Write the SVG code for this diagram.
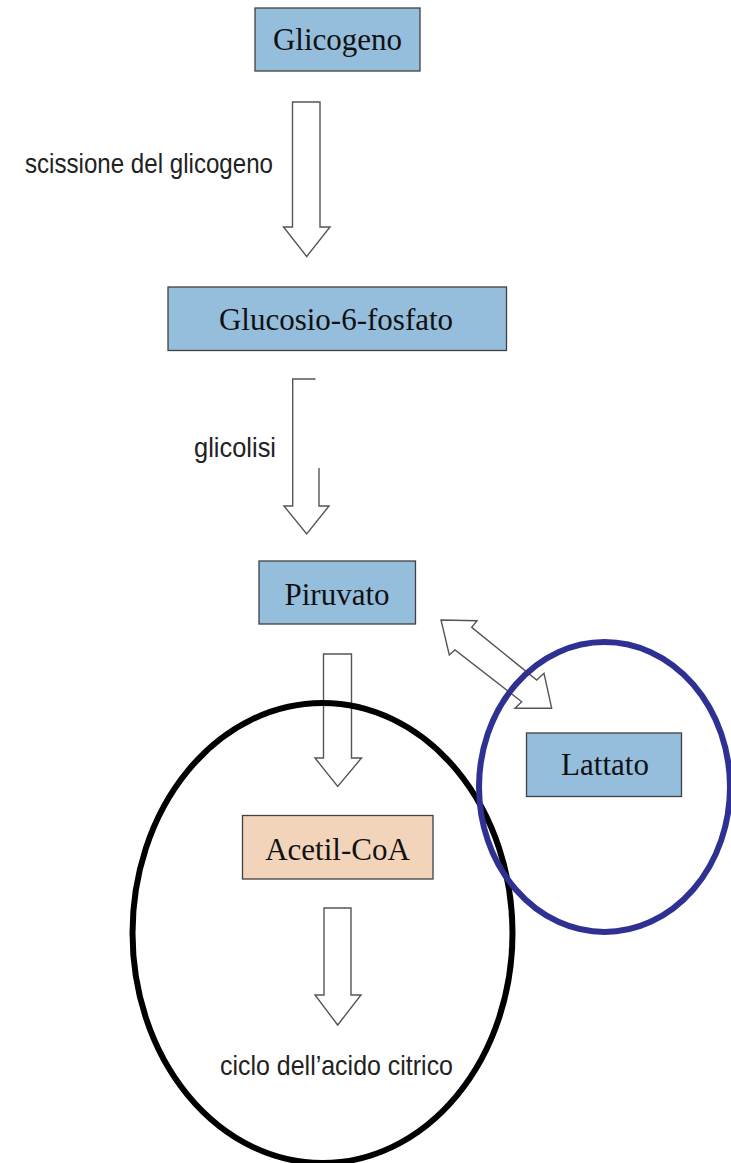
<svg xmlns="http://www.w3.org/2000/svg" width="731" height="1163" viewBox="0 0 731 1163">
<style>
.box{fill:#95bddc;stroke:#404040;stroke-width:1.3}
.box2{fill:#f2d4ba;stroke:#404040;stroke-width:1.3}
.t{font-family:"Liberation Serif","Times New Roman",serif;font-size:31px;fill:#111;text-anchor:middle}
.lbl{font-family:"Liberation Sans Narrow","Liberation Sans",Arial,sans-serif;font-size:28px;fill:#222}
.arr{fill:#fff;stroke:#555;stroke-width:1.4}
</style>
<rect width="731" height="1163" fill="#fff"/>
<g id="connectors">
<polygon class="arr" points="292.5,102 320,102 320,227 330,227 306.7,256.5 283.5,227 292.5,227"/>
<polygon class="arr" points="292.7,379 319,379 319,506 329,506 306.7,534 284,506 292.7,506"/>
<rect x="315.5" y="376" width="10" height="92" fill="#fff"/>
<polygon class="arr" points="323.5,654 351.5,654 351.5,758 361.5,758 337.7,786.5 315,758 323.5,758"/>
<polygon class="arr" points="324,908 351,908 351,995 361,995 337.7,1025 315,995 324,995"/>
<polygon class="arr" points="441,620 477,620.7 471.7,627.3 536.7,680 544,673.3 551.7,708.3 515,708.3 521.7,701.7 455,650 449.3,655"/>
</g>
<g id="label-scissione"><text class="lbl" x="25" y="173" textLength="248" lengthAdjust="spacingAndGlyphs">scissione del glicogeno</text></g>
<g id="label-glicolisi"><text class="lbl" x="194" y="457" textLength="82" lengthAdjust="spacingAndGlyphs">glicolisi</text></g>
<g id="glicogeno"><rect class="box" x="255" y="8" width="165" height="63"/><text class="t" x="337.5" y="50">Glicogeno</text></g>
<g id="glucosio"><rect class="box" x="168" y="287" width="338.5" height="63.5"/><text class="t" x="336" y="330">Glucosio-6-fosfato</text></g>
<g id="piruvato"><rect class="box" x="259" y="561" width="156.5" height="63"/><text class="t" x="337" y="605">Piruvato</text></g>
<g id="acetilcoa"><rect class="box2" x="242.5" y="815.5" width="190.5" height="63.5"/><text class="t" x="337.5" y="860">Acetil-CoA</text></g>
<g id="lattato"><rect class="box" x="526.5" y="733" width="155" height="63.5"/><text class="t" x="605" y="775">Lattato</text></g>
<g id="label-ciclo"><text class="lbl" x="220" y="1075" textLength="233" lengthAdjust="spacingAndGlyphs">ciclo dell’acido citrico</text></g>
<g id="ellipse-black"><ellipse cx="322.5" cy="933" rx="190" ry="230" fill="none" stroke="#000" stroke-width="6"/></g>
<g id="ellipse-blue"><ellipse cx="604.5" cy="787" rx="125.5" ry="145" fill="none" stroke="#2e3192" stroke-width="6"/></g>
</svg>
